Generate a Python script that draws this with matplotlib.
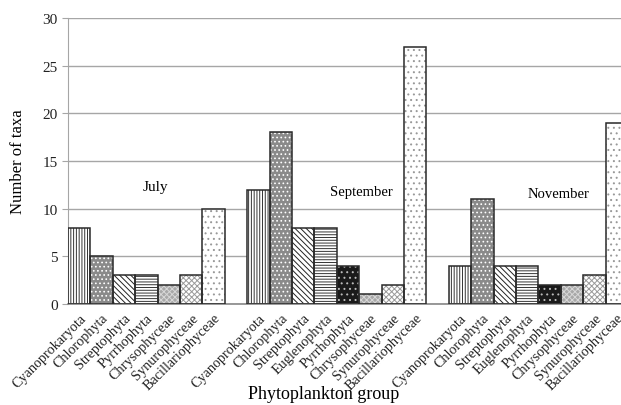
import numpy as np
import matplotlib
matplotlib.use('Agg')
import matplotlib.pyplot as plt

plt.rcParams['font.family'] = ['Liberation Serif', 'DejaVu Serif']
plt.rcParams['hatch.linewidth'] = 0.7

# data
months = ['July', 'September', 'November']
july_groups = ['Cyanoprokaryota', 'Chlorophyta', 'Streptophyta', 'Pyrrhophyta',
               'Chrysophyceae', 'Synurophyceae', 'Bacillariophyceae']
july_taxa = [8, 5, 3, 3, 2, 3, 10]
sept_groups = ['Cyanoprokaryota', 'Chlorophyta', 'Streptophyta', 'Euglenophyta',
               'Pyrrhophyta', 'Chrysophyceae', 'Synurophyceae', 'Bacillariophyceae']
sept_taxa = [12, 18, 8, 8, 4, 1, 2, 27]
nov_groups = ['Cyanoprokaryota', 'Chlorophyta', 'Streptophyta', 'Euglenophyta',
              'Pyrrhophyta', 'Chrysophyceae', 'Synurophyceae', 'Bacillariophyceae']
nov_taxa = [4, 11, 4, 4, 2, 2, 3, 19]

# fill styles in bar order: face colour, hatch, hatch colour
vert = ('white', '||||||', '#333333')
gdot = ('#8a8a8a', '....', 'white')
diag = ('white', '\\\\\\\\\\\\', '#222222')
horz = ('white', '------', '#333333')
bdot = ('#1a1a1a', '...', '#bbbbbb')
gmesh = ('#a8a8a8', 'xxxxxx', '#d8d8d8')
wmesh = ('white', 'xxxxxx', '#9a9a9a')
sdot = ('white', '...', '#999999')
july_styles = [vert, gdot, diag, horz, gmesh, wmesh, sdot]
full_styles = [vert, gdot, diag, horz, bdot, gmesh, wmesh, sdot]

fig = plt.figure(figsize=(6.21, 4.06), dpi=100)
ax = fig.add_axes([68 / 621, 1 - 305 / 406, 560 / 621, 286 / 406])

# one empty slot between months
pos, labels = [], []
start = 0
for groups, taxa, sty in [(july_groups, july_taxa, july_styles),
                          (sept_groups, sept_taxa, full_styles),
                          (nov_groups, nov_taxa, full_styles)]:
    for i, (g, v) in enumerate(zip(groups, taxa)):
        face, hatch, hcol = sty[i]
        x = start + i
        ax.bar(x, v, width=1, color=face, edgecolor=hcol, hatch=hatch, linewidth=0, zorder=2)
        ax.bar(x, v, width=1, fill=False, edgecolor='#2a2a2a', linewidth=1.1, zorder=3)
        pos.append(x)
        labels.append(g)
    start += len(groups) + 1

ax.set_xlim(-0.5, start - 1.5)
ax.set_ylim(0, 30)
ax.set_yticks(range(0, 31, 5))
ax.yaxis.grid(True, color='#a6a6a6', linewidth=1)
ax.set_axisbelow(True)
for s in ['top', 'right']:
    ax.spines[s].set_visible(False)
ax.spines['left'].set_color('#a6a6a6')
ax.spines['bottom'].set_color('#888888')
ax.spines['bottom'].set_linewidth(1.2)
ax.tick_params(axis='y', colors='#a6a6a6', labelcolor='#222222', labelsize=11, length=4)
ax.set_xticks(pos)
ax.set_xticklabels(labels, rotation=45, ha='right', rotation_mode='anchor', fontsize=10.3, color='#222222')
ax.tick_params(axis='x', length=0, pad=5)

ax.text(3.4, 12.3, 'July', ha='center', va='center', fontsize=11)
ax.text(12.6, 11.8, 'September', ha='center', va='center', fontsize=10.5)
ax.text(21.4, 11.6, 'November', ha='center', va='center', fontsize=10.5)

fig.text(18 / 621, 1 - 162 / 406, 'Number of taxa', rotation=90, ha='center', va='center', fontsize=12)
fig.text(324 / 621, 1 - 395 / 406, 'Phytoplankton group', ha='center', va='center', fontsize=13)

fig.savefig('out.png', dpi=100)
